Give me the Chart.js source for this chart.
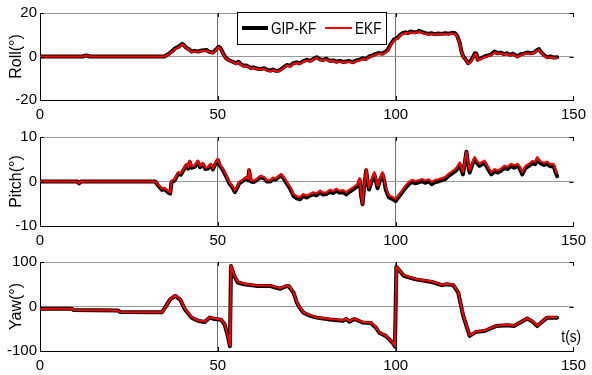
<!DOCTYPE html>
<html>
<head>
<meta charset="utf-8">
<script src="https://cdn.jsdelivr.net/npm/chart.js@4"></script>
<style>
  body { margin: 0; background: #fff; }
  #wrap { position: relative; width: 592px; height: 375px; overflow: hidden; }
  canvas { position: absolute; left: 0; }
</style>
</head>
<body>
<div id="wrap">
  <canvas id="c1" width="592" height="125" style="top:0px"></canvas>
  <canvas id="c2" width="592" height="127" style="top:124px"></canvas>
  <canvas id="c3" width="592" height="126" style="top:249px"></canvas>
</div>
<script>
// Roll (deg)
const rollT = [0, 12, 13, 14, 35, 36, 37, 38, 39, 40, 40.5, 41, 42, 42.6, 43.5, 44.5, 45.5, 46.8, 47.5, 48.6, 49.5, 50.2, 50.8, 51.5, 52.3, 53, 54, 55.1, 55.8, 56.5, 57.3, 58, 59.3, 60, 61, 62, 63, 64, 64.8, 65.5, 66.3, 67.1, 68, 69.4, 70.3, 71.2, 72.2, 73, 74, 75, 76, 77, 77.8, 78.7, 79.6, 80.5, 81.5, 82.4, 83.3, 84.3, 85.2, 86, 87, 88, 89, 89.8, 90.7, 91.5, 92.6, 93.5, 94.4, 95.3, 96.3, 97.2, 97.8, 98.5, 99.5, 100.5, 101.2, 101.9, 102.8, 103.5, 104.2, 105, 106, 106.5, 107.3, 108.2, 109.2, 110, 111, 112, 113, 113.9, 115, 116, 116.7, 117.3, 118, 118.5, 119, 119.6, 120.4, 121, 121.3, 121.8, 122.3, 122.7, 123.1, 123.8, 125, 126, 126.8, 127.8, 128.6, 129.5, 130.5, 131.3, 132.2, 133, 134.3, 135, 136, 137, 138, 139, 139.6, 140.3, 141, 141.8, 142.6, 143.5, 144.5, 145.4];
const rollEkf = [0, 0, 0.5, 0, 0, 0.8, 2, 3.5, 4.2, 5.5, 5, 4, 3, 2, 2.4, 2.1, 2.5, 2.8, 2, 1.6, 3, 4.3, 3.5, 1, -1, -1.8, -2.5, -3.4, -2.6, -3.9, -4.5, -4.3, -5.6, -5.2, -5.8, -6, -5.6, -6.5, -6.7, -6.2, -6.9, -6.7, -5.8, -4.1, -4.6, -3.3, -3, -3.5, -2.4, -1.8, -2.2, -1.2, -0.6, -1.6, -1.8, -1.3, -2.2, -2, -2.7, -2.3, -2.8, -2.6, -2.4, -2.9, -2.1, -1.8, -1.1, -1.5, -0.3, 0.2, 0.9, 1.3, 1, 2, 2.8, 5, 7.4, 8.2, 9.5, 10.4, 10.8, 10.5, 11.2, 10.8, 11, 11.5, 11, 10.5, 10.1, 10.4, 10, 10.3, 10.1, 10.4, 10.2, 10.6, 10.4, 9, 5.8, 2, -0.3, -1.5, -3.4, -2.5, -1.8, -0.5, 1.2, 1, -1.8, -1.2, -0.3, 0.2, 0.6, 2, 1.2, 1.5, 0.8, 1.2, 0.5, 1, -0.3, 0.6, 1, 1.5, 1.2, 1.6, 2.5, 3.1, 1.5, 0.2, -0.6, -0.3, -0.8, -0.6];
const rollGip = [0, 0, 0.5, 0, 0, 1, 2.2, 3.8, 4.5, 5.8, 5.2, 4.2, 3.2, 2.3, 2.6, 2.3, 2.8, 3, 2.2, 1.8, 3.2, 4.5, 3.8, 1.3, -0.8, -1.6, -2.3, -3.1, -2.4, -3.6, -4.3, -4.1, -5.3, -5, -5.5, -5.8, -5.4, -6.2, -6.5, -6, -6.6, -6.5, -5.6, -3.9, -4.3, -3.1, -2.7, -3.2, -2.1, -1.5, -2, -1, -0.3, -1.3, -1.6, -1, -2, -1.8, -2.4, -2, -2.5, -2.3, -2.1, -2.6, -1.8, -1.5, -0.8, -1.2, 0, 0.5, 1.2, 1.6, 1.3, 2.3, 3.1, 5.4, 7.8, 8.6, 9.8, 10.7, 11.1, 10.8, 11.5, 11.1, 11.3, 11.8, 11.3, 10.8, 10.4, 10.7, 10.3, 10.6, 10.4, 10.7, 10.5, 10.9, 10.7, 9.4, 6.3, 2.4, 0, -1.2, -3.1, -2.2, -1.5, -0.2, 1.5, 1.3, -1.5, -0.9, 0, 0.5, 0.9, 2.3, 1.5, 1.8, 1.1, 1.5, 0.8, 1.3, 0, 0.9, 1.3, 1.8, 1.5, 1.9, 2.8, 3.4, 1.8, 0.5, -0.3, 0, -0.5, -0.3];

// Pitch (deg)
const pitchT = [0, 10.5, 11, 11.5, 32.4, 33.3, 34.3, 35, 36.1, 36.6, 37, 37.8, 38.9, 39.6, 40.3, 41.2, 41.7, 42.1, 42.6, 43.5, 44.4, 45, 45.8, 46.5, 47.2, 48, 48.6, 49.3, 50, 50.6, 51.4, 52.3, 53.2, 54, 54.8, 55.4, 56, 56.8, 57.9, 58.5, 58.8, 59.3, 60.2, 61.1, 62, 63, 63.8, 64.8, 65.5, 66.2, 67, 67.8, 68.5, 69.4, 70.4, 71.3, 72.2, 73.1, 74, 75, 75.9, 76.8, 77.7, 78.7, 79.6, 80.6, 81.5, 82.4, 83.3, 84.2, 85.2, 86.1, 87, 88, 88.7, 89.4, 89.9, 90.3, 90.7, 91.1, 91.7, 92.1, 92.5, 93.2, 94, 94.5, 94.9, 95.6, 96.3, 96.8, 97.2, 98.1, 99, 100, 100.9, 101.8, 102.7, 103.7, 104.6, 105.5, 106.5, 107.4, 108.3, 109.3, 110.2, 111.1, 112, 113, 113.9, 114.8, 115.7, 116.7, 117.3, 118, 118.9, 119.4, 119.9, 120.4, 120.8, 121.5, 122.2, 122.9, 123.6, 124.3, 125, 125.9, 126.9, 127.8, 128.7, 129.6, 130.6, 131.5, 132.4, 133.3, 134.3, 134.9, 135.6, 136.5, 137.5, 138.4, 139.2, 139.8, 140.7, 141.7, 142.6, 143.5, 144.4, 145, 145.4];
const pitchEkf = [0, 0, -0.4, 0, 0, -0.8, -1.6, -1.4, -2.2, -2.4, 0.2, 0.5, 2.1, 1.8, 2.8, 4, 3.2, 4.7, 3.4, 3.6, 4.7, 3.5, 4.2, 3.1, 3.2, 4, 3, 4.2, 5.1, 3.8, 2.9, 1.5, -0.1, -0.9, -2, -1.2, -0.1, 0.3, 1, 0.6, 2.8, 0.3, 0.2, 0.7, 1.3, 1, 0.3, 0.3, 0.9, 0.7, 1.2, 1.7, 1, -0.1, -1.3, -2.8, -3.3, -3.5, -2.8, -3.2, -2.8, -2.4, -2.7, -2, -2.5, -2.4, -1.8, -2.2, -1.6, -2.1, -1.9, -2.4, -1.8, -1.3, -0.9, -0.5, 0.8, -3, -5, -1, 2.8, 0.5, -1.3, 0.4, 2.1, 0.5, -1, 0.8, 2.1, 0.6, -1.3, -3.1, -3.4, -3.9, -2.9, -2, -1, -0.1, 0.4, 0.1, 0.3, 0.6, 0.2, 0.5, -0.1, 0.4, 0.5, 0.8, 1, 1.7, 2.2, 2.8, 3.3, 4.3, 2.1, 4.5, 6.6, 4.2, 2.5, 4.2, 5.5, 4.6, 4, 4.4, 4.7, 3.4, 2.1, 2.8, 2.5, 2.9, 3.6, 3.3, 4, 3.6, 4, 3.4, 2.1, 3.5, 4, 4.6, 4.4, 5.5, 4.6, 4.2, 4.5, 3.9, 4, 2.5, 1.7];
const pitchGip = [0, 0, -0.4, 0, 0, -1, -1.9, -1.7, -2.5, -2.7, -0.1, 0.2, 1.8, 1.5, 2.5, 3.7, 2.9, 4.4, 3.1, 3.3, 4.4, 3.2, 3.9, 2.8, 2.9, 3.7, 2.7, 3.9, 4.8, 3.5, 2.6, 1.2, -0.4, -1.2, -2.4, -1.5, -0.4, 0, 0.7, 0.3, 2.5, 0, -0.1, 0.4, 1, 0.7, 0, 0, 0.6, 0.4, 0.9, 1.4, 0.7, -0.5, -1.7, -3.3, -3.8, -4, -3.3, -3.6, -3.2, -2.9, -3.1, -2.5, -2.9, -2.8, -2.3, -2.6, -2.1, -2.5, -2.4, -2.9, -2.3, -1.8, -1.4, -1, 0.3, -3.3, -5.1, -1.5, 2.5, 0, -1.8, -0.1, 1.6, 0, -1.5, 0.3, 1.6, 0.1, -1.8, -3.6, -3.9, -4.4, -3.4, -2.5, -1.5, -0.6, -0.1, -0.4, -0.2, 0.1, -0.3, 0, -0.6, -0.1, 0, 0.3, 0.5, 1.2, 1.7, 2.3, 2.8, 3.8, 1.6, 4, 6.7, 3.7, 2, 3.7, 5, 4.1, 3.5, 3.9, 4.2, 2.9, 1.6, 2.3, 2, 2.4, 3.1, 2.8, 3.5, 3.1, 3.5, 2.9, 1.6, 3, 3.5, 4.1, 3.9, 5, 4.1, 3.7, 4, 3.4, 3.5, 2, 1.2];

// Yaw (deg)
const yawT = [0, 9, 9.5, 22, 22.5, 34.3, 35.2, 36.6, 38, 39.4, 40.7, 42.6, 44.4, 46.3, 47.7, 49.1, 50.9, 51.9, 52.8, 53.4, 53.7, 54.6, 55.6, 57.4, 61.1, 64.8, 66.5, 67.6, 69, 69.9, 71.3, 72.2, 73, 74.1, 76, 77.8, 81.5, 85.2, 86.1, 87, 88.4, 90.7, 93, 94.4, 95.4, 97.2, 99.1, 99.8, 100.2, 102.3, 105.6, 110.2, 113, 114.4, 116.2, 117.6, 119, 120.8, 122.7, 125, 128.2, 131.5, 133.3, 137, 138.5, 139.8, 142.6, 145.4];
const yawEkf = [-5, -5, -8, -9, -12.5, -12.7, -1.5, 17, 25, 17, -5, -24, -31, -34, -24, -27, -29, -39, -65, -88, 92, 70, 55, 51, 47, 47, 43, 41, 46, 47, 32, 10, -1.5, -13, -20, -24, -28, -31, -27, -33, -27, -35, -36, -46, -58, -65, -80, -89, 90, 70, 62, 56, 49, 51, 49, 32, -20, -65, -56, -54, -43, -41, -43, -26, -33, -43, -24, -24];
const yawGip = [-5, -5, -8, -9, -12.5, -12.7, -2, 16, 24, 16, -6, -25, -32, -35, -25, -28, -30, -40, -66, -89, 91, 69, 54, 50, 46, 46, 42, 40, 45, 46, 31, 9, -2.5, -14, -21, -25, -29, -32, -28, -34, -28, -36, -37, -47, -59, -66, -81, -90, 89, 69, 61, 55, 48, 50, 48, 31, -21, -66, -57, -55, -44, -42, -44, -27, -34, -44, -25, -25];

const FONT = "'Liberation Sans', Arial, sans-serif";

function pts(t, v) {
    return t.map((x, i) => ({ x: x, y: v[i] }));
}

// narrow text: the figure's font is tall and condensed
function narrowText(ctx, text, x, y, align) {
    ctx.save();
    ctx.font = '17px ' + FONT;
    ctx.textAlign = align || 'left';
    ctx.textBaseline = 'middle';
    ctx.translate(x, y);
    ctx.scale(0.8, 1);
    ctx.fillText(text, 0, 0);
    ctx.restore();
}

// legend drawn as a boxed MATLAB-style legend
const legendBox = {
    id: 'legendBox',
    afterDraw(chart) {
        const ctx = chart.ctx;
        ctx.save();
        ctx.fillStyle = '#fff';
        ctx.fillRect(237, 12, 149, 32);
        ctx.strokeStyle = '#000';
        ctx.lineWidth = 1;
        ctx.strokeRect(237.5, 12.5, 149, 32);
        ctx.lineWidth = 4;
        ctx.beginPath(); ctx.moveTo(242, 28); ctx.lineTo(268, 28); ctx.stroke();
        ctx.strokeStyle = '#ff0000';
        ctx.lineWidth = 2;
        ctx.beginPath(); ctx.moveTo(325, 28); ctx.lineTo(352, 28); ctx.stroke();
        ctx.fillStyle = '#000';
        narrowText(ctx, 'GIP-KF', 271, 29);
        narrowText(ctx, 'EKF', 355, 29);
        ctx.restore();
    }
};

const tLabel = {
    id: 'tLabel',
    afterDraw(chart) {
        const ctx = chart.ctx;
        ctx.save();
        ctx.fillStyle = '#000';
        narrowText(ctx, 't(s)', 581, 88, 'right');
        ctx.restore();
    }
};

// small inward tick marks on all four sides
const innerTicks = {
    id: 'innerTicks',
    afterDatasetsDraw(chart) {
        const { ctx, chartArea: a, scales: { x, y } } = chart;
        ctx.save();
        ctx.strokeStyle = '#000';
        ctx.lineWidth = 1;
        ctx.beginPath();
        y.ticks.forEach(tk => {
            const py = Math.round(y.getPixelForValue(tk.value)) + 0.5;
            ctx.moveTo(a.left, py); ctx.lineTo(a.left + 4, py);
            ctx.moveTo(a.right, py); ctx.lineTo(a.right - 4, py);
        });
        x.ticks.forEach(tk => {
            const px = Math.round(x.getPixelForValue(tk.value)) + 0.5;
            ctx.moveTo(px, a.bottom); ctx.lineTo(px, a.bottom - 4);
            ctx.moveTo(px, a.top); ctx.lineTo(px, a.top + 4);
        });
        ctx.stroke();
        ctx.restore();
    }
};

function makeChart(id, t, gip, ekf, lim, title, axisH, extra) {
    const ctx = document.getElementById(id).getContext('2d');
    return new Chart(ctx, {
        type: 'line',
        data: {
            datasets: [{
                label: 'GIP-KF',
                data: pts(t, gip),
                borderColor: '#000',
                borderWidth: 4,
                borderJoinStyle: 'round',
                borderCapStyle: 'round',
                pointRadius: 0,
                tension: 0,
                order: 2
            }, {
                label: 'EKF',
                data: pts(t, ekf),
                borderColor: '#ff0000',
                borderWidth: 2,
                borderJoinStyle: 'round',
                pointRadius: 0,
                tension: 0,
                order: 1
            }]
        },
        options: {
            responsive: false,
            animation: false,
            devicePixelRatio: 1,
            layout: { padding: { top: 13, right: 12, left: 0, bottom: 0 } },
            plugins: { legend: { display: false }, tooltip: { enabled: false } },
            scales: {
                x: {
                    type: 'linear',
                    min: 0,
                    max: 150,
                    ticks: { stepSize: 50, color: '#000', padding: 6, maxRotation: 0, font: { family: FONT, size: 15 } },
                    grid: {
                        drawTicks: false,
                        color: c => (c.tick && (c.tick.value === 50 || c.tick.value === 100)) ? '#707070' : 'rgba(0,0,0,0)'
                    },
                    border: { display: true, color: '#000', width: 1 },
                    afterFit: s => { s.height = axisH; }
                },
                y: {
                    min: -lim,
                    max: lim,
                    ticks: { stepSize: lim, color: '#000', padding: 3, font: { family: FONT, size: 15 } },
                    grid: {
                        drawTicks: false,
                        color: c => (c.tick && c.tick.value > -lim) ? '#9a9a9a' : 'rgba(0,0,0,0)'
                    },
                    border: { display: true, color: '#000', width: 1 },
                    title: { display: true, text: title, color: '#000', padding: { top: 7, bottom: 0 }, font: { family: FONT, size: 16 } },
                    afterFit: s => { s.width = 40; }
                }
            }
        },
        plugins: [innerTicks].concat(extra)
    });
}

makeChart('c1', rollT, rollGip, rollEkf, 20, 'Roll(\u00b0)', 25, [legendBox]);
makeChart('c2', pitchT, pitchGip, pitchEkf, 10, 'Pitch(\u00b0)', 25, []);
makeChart('c3', yawT, yawGip, yawEkf, 100, 'Yaw(\u00b0)', 24, [tLabel]);
</script>
</body>
</html>
